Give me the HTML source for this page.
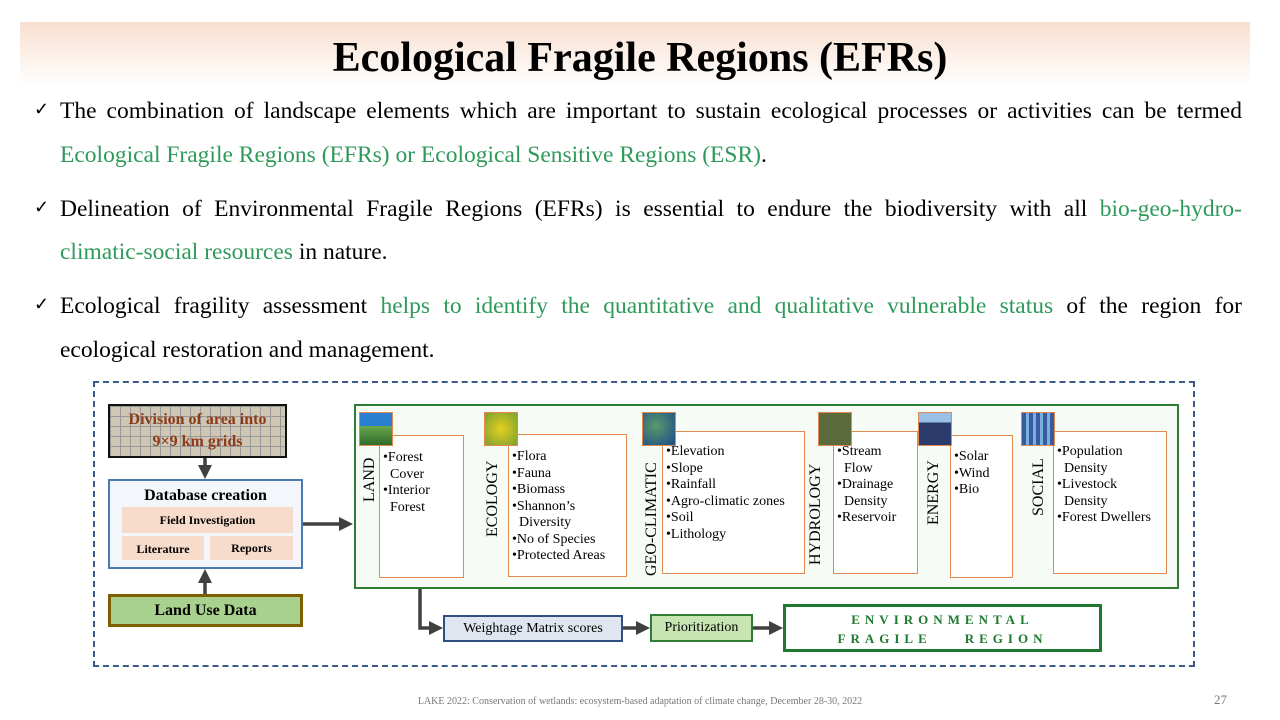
<!DOCTYPE html>
<html><head><meta charset="utf-8"><style>
*{margin:0;padding:0;box-sizing:border-box}
body{width:1280px;height:720px;background:#fff;position:relative;overflow:hidden;font-family:"Liberation Serif",serif;color:#000}
.a{position:absolute}
.banner{left:20px;top:22px;width:1230px;height:64px;background:linear-gradient(#f8dfcf,#fff)}
.title{left:0;width:1280px;top:34px;text-align:center;font-size:42px;font-weight:bold}
.p{left:60px;width:1182px;font-size:23.5px;line-height:26px;white-space:nowrap}
.j{text-align:justify;text-align-last:justify;white-space:normal}
.ck{left:34px;font-size:18px}
.g{color:#2e9a5a}
.box{position:absolute;border:1.5px solid #e08a50;background:#fff;font-size:14px;line-height:16.5px;padding:3px 0 0 2px}
.box div{padding-left:8px;text-indent:-7px;white-space:nowrap}
.lab{position:absolute;font-size:16px;transform:rotate(-90deg);transform-origin:left top;white-space:nowrap}
.img{position:absolute;width:34px;height:34px;border:1.5px solid #e08a50}
</style></head><body>
<div class="a banner"></div>
<div class="a title">Ecological Fragile Regions (EFRs)</div>
<div class="a ck" style="top:99px">✓</div>
<div class="a p j" style="top:98px">The combination of landscape elements which are important to sustain ecological processes or activities can be termed</div>
<div class="a p" style="top:142px"><span class="g">Ecological Fragile Regions (EFRs) or Ecological Sensitive Regions (ESR)</span>.</div>
<div class="a ck" style="top:197px">✓</div>
<div class="a p j" style="top:196px">Delineation of Environmental Fragile Regions (EFRs) is essential to endure the biodiversity with all <span class="g">bio-geo-hydro-</span></div>
<div class="a p" style="top:239px"><span class="g">climatic-social resources</span> in nature.</div>
<div class="a ck" style="top:294px">✓</div>
<div class="a p j" style="top:293px">Ecological fragility assessment <span class="g">helps to identify the quantitative and qualitative vulnerable status</span> of the region for</div>
<div class="a p" style="top:337px">ecological restoration and management.</div>

<div class="a" style="left:93px;top:381px;width:1102px;height:286px;border:2px dashed #3a5a8a"></div>

<div class="a" style="left:108px;top:404px;width:179px;height:54px;border:2px solid #111;background-color:#cfc6b4;background-image:linear-gradient(#999 1px,transparent 1px),linear-gradient(90deg,#999 1px,transparent 1px);background-size:10px 10px;color:#8b3a1a;font-weight:bold;font-size:16px;text-align:center;line-height:22px;padding-top:3px">Division of area into<br>9×9 km grids</div>

<svg class="a" style="left:0;top:0" width="1280" height="720">
<defs><marker id="m" markerWidth="4" markerHeight="4" refX="2" refY="2" orient="auto"><path d="M0,0L4,2L0,4z" fill="#404040"/></marker></defs>
<g stroke="#404040" stroke-width="3.5" fill="none">
<line x1="205" y1="458" x2="205" y2="472" marker-end="url(#m)"/>
<line x1="205" y1="594" x2="205" y2="576" marker-end="url(#m)"/>
<line x1="303" y1="524" x2="346" y2="524" marker-end="url(#m)"/>
<polyline points="420,589 420,628 436,628" marker-end="url(#m)"/>
<line x1="623" y1="628" x2="643" y2="628" marker-end="url(#m)"/>
<line x1="753" y1="628" x2="776" y2="628" marker-end="url(#m)"/>
</g></svg>

<div class="a" style="left:108px;top:479px;width:195px;height:90px;border:2px solid #4a7ab0;background:#f3f7fb"></div>
<div class="a" style="left:108px;top:487px;width:195px;text-align:center;font-weight:bold;font-size:16px">Database creation</div>
<div class="a" style="left:122px;top:507px;width:171px;height:26px;background:#f8dccb;font-weight:bold;font-size:12px;text-align:center;line-height:26px">Field Investigation</div>
<div class="a" style="left:122px;top:536px;width:82px;height:24px;background:#f8dccb;font-weight:bold;font-size:12px;text-align:center;line-height:26px">Literature</div>
<div class="a" style="left:210px;top:536px;width:83px;height:24px;background:#f8dccb;font-weight:bold;font-size:12px;text-align:center;line-height:24px">Reports</div>
<div class="a" style="left:108px;top:594px;width:195px;height:33px;background:#a9d18e;border:3px solid #7f6000;font-weight:bold;font-size:16px;text-align:center;line-height:27px">Land Use Data</div>

<div class="a" style="left:354px;top:404px;width:825px;height:185px;border:2px solid #2e7d32;background:#f7fbf5"></div>

<div class="box" style="left:379px;top:435px;width:85px;height:143px;padding-top:14px"><div>•Forest<br>Cover</div><div>•Interior<br>Forest</div></div>
<div class="img" style="left:359px;top:412px;background:linear-gradient(#2a7fd0 40%,#6aa84f 40%,#2f6b2a)"></div>
<div class="lab" style="left:361px;top:502px">LAND</div>

<div class="box" style="left:508px;top:434px;width:119px;height:143px;padding-top:14px"><div>•Flora</div><div>•Fauna</div><div>•Biomass</div><div>•Shannon’s<br>Diversity</div><div>•No of Species</div><div>•Protected Areas</div></div>
<div class="img" style="left:484px;top:412px;background:radial-gradient(circle,#e6d020,#7aa030)"></div>
<div class="lab" style="left:484px;top:537px">ECOLOGY</div>

<div class="box" style="left:662px;top:431px;width:143px;height:143px;padding-top:12px"><div>•Elevation</div><div>•Slope</div><div>•Rainfall</div><div>•Agro-climatic zones</div><div>•Soil</div><div>•Lithology</div></div>
<div class="img" style="left:642px;top:412px;background:radial-gradient(circle at 40% 40%,#5a9a6a,#1a4a8a)"></div>
<div class="lab" style="left:643px;top:576px">GEO-CLIMATIC</div>

<div class="box" style="left:833px;top:431px;width:85px;height:143px;padding-top:12px"><div>•Stream<br>Flow</div><div>•Drainage<br>Density</div><div>•Reservoir</div></div>
<div class="img" style="left:818px;top:412px;background:#5a6a3a"></div>
<div class="lab" style="left:807px;top:565px">HYDROLOGY</div>

<div class="box" style="left:950px;top:435px;width:63px;height:143px;padding-top:13px"><div>•Solar</div><div>•Wind</div><div>•Bio</div></div>
<div class="img" style="left:918px;top:412px;background:linear-gradient(#9ac0e8 30%,#2a3a6a 30%)"></div>
<div class="lab" style="left:925px;top:525px">ENERGY</div>

<div class="box" style="left:1053px;top:431px;width:114px;height:143px;padding-top:12px"><div>•Population<br>Density</div><div>•Livestock<br>Density</div><div>•Forest Dwellers</div></div>
<div class="img" style="left:1021px;top:412px;background:repeating-linear-gradient(90deg,#3a5aa0 0 4px,#7ab0e0 4px 7px)"></div>
<div class="lab" style="left:1030px;top:516px">SOCIAL</div>

<div class="a" style="left:443px;top:615px;width:180px;height:27px;background:#dfe6ef;border:2px solid #2f4f7f;font-size:14px;text-align:center;line-height:23px">Weightage Matrix scores</div>
<div class="a" style="left:650px;top:614px;width:103px;height:28px;background:#c6e5b3;border:2px solid #2e7d32;font-size:14px;text-align:center;line-height:24px">Prioritization</div>
<div class="a" style="left:783px;top:604px;width:319px;height:48px;border:3px solid #1e7a2e;color:#1e7a2e;font-weight:bold;font-size:13px;letter-spacing:5px;text-align:center;line-height:19px;padding-top:3px">ENVIRONMENTAL<br>FRAGILE&nbsp;&nbsp;&nbsp; REGION</div>

<div class="a" style="left:0;width:1280px;top:696px;text-align:center;font-size:10px;color:#777">LAKE 2022: Conservation of wetlands: ecosystem-based adaptation of climate change, December 28-30, 2022</div>
<div class="a" style="left:1214px;top:692px;font-size:13px;color:#777">27</div>
</body></html>
